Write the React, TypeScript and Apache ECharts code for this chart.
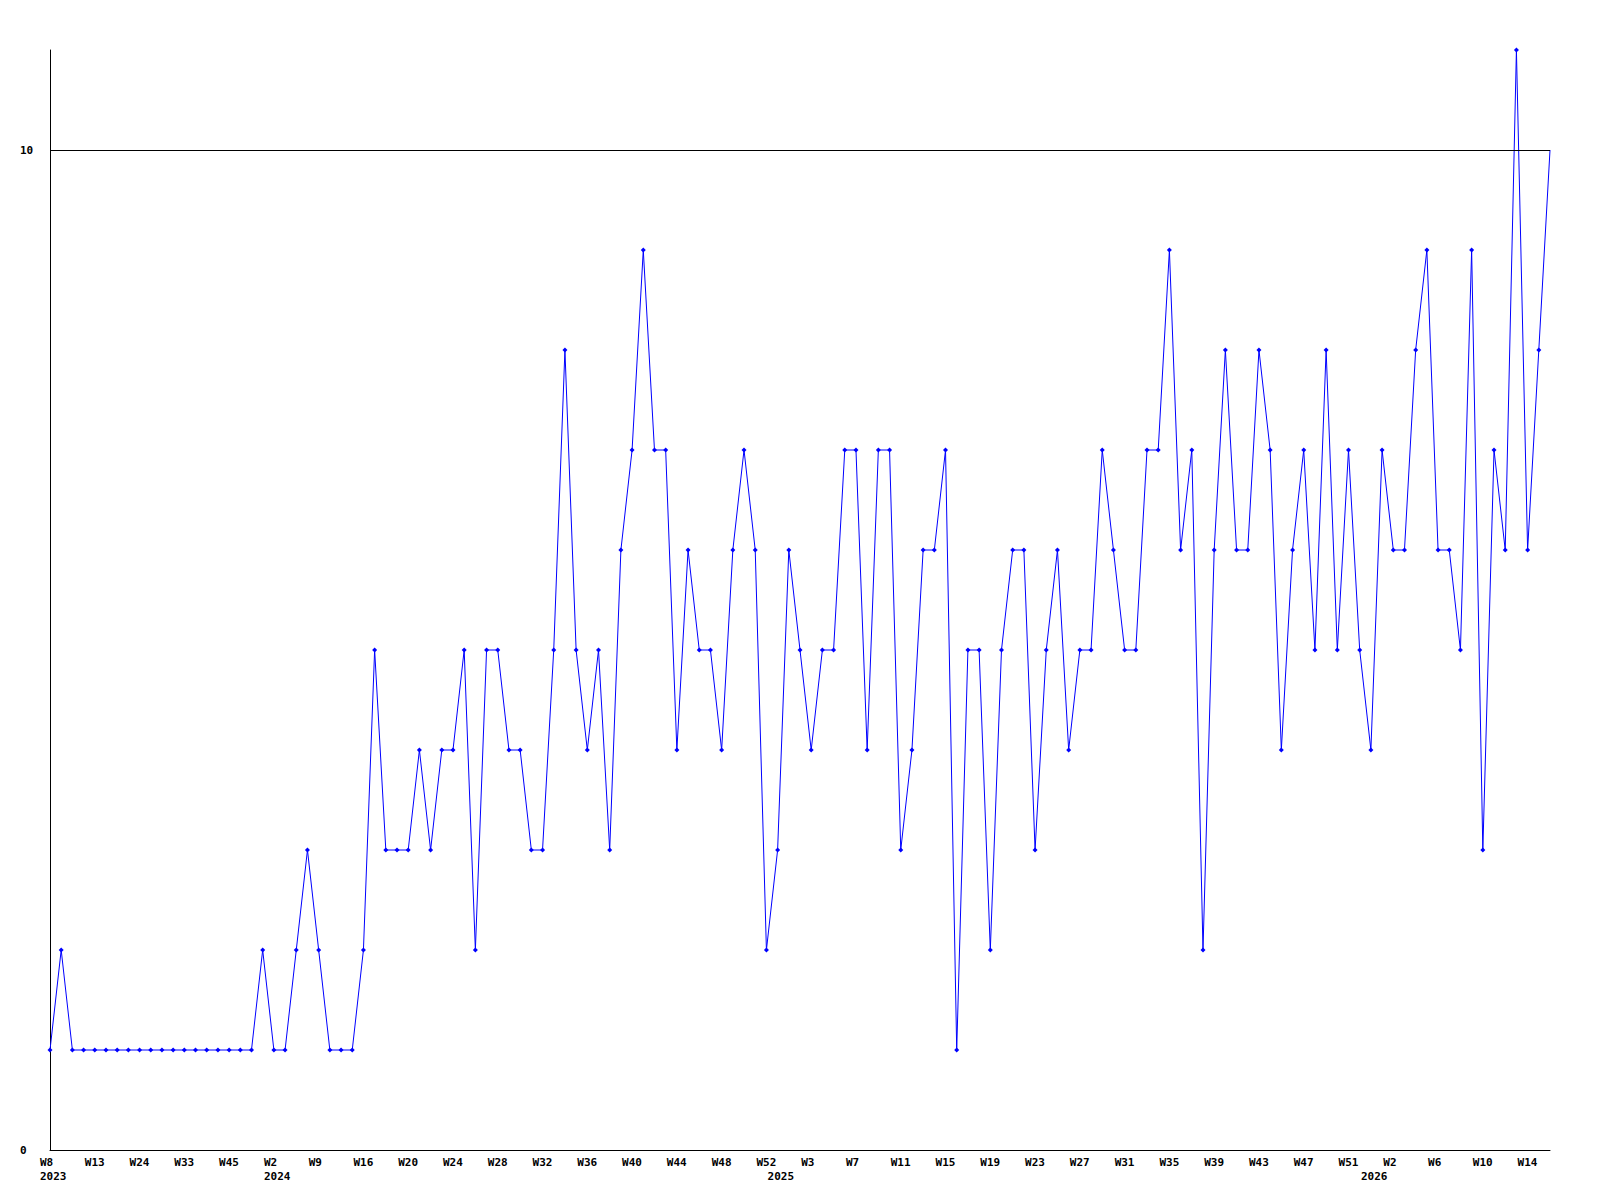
import React, { useEffect, useRef } from "react";
import * as echarts from "echarts";

// Week labels per year (as shown on the chart's category axis)
const weeks2023 = [8, 9, 10, 12, 13, 15, 18, 21, 24, 26, 28, 31, 33, 36, 39, 42, 45, 47, 49, 51];
const weeks2024 = [2, 3, 5, 7, 9, 11, 13, 14, 16, 17, 18, 19, 20, 21, 22, 23, 24, 25, 26, 27, 28, 29, 30, 31, 32, 33, 34, 35, 36, 37, 38, 39, 40, 41, 42, 43, 44, 45, 46, 47, 48, 49, 50, 51, 52];
const weeks2025 = [0, 1, 2, 3, 4, 5, 6, 7, 8, 9, 10, 11, 12, 13, 14, 15, 16, 17, 18, 19, 20, 21, 22, 23, 24, 25, 26, 27, 28, 29, 30, 31, 32, 33, 34, 35, 36, 37, 38, 39, 40, 41, 42, 43, 44, 45, 46, 47, 48, 49, 50, 51, 52];
const weeks2026 = [0, 1, 2, 3, 4, 5, 6, 7, 8, 9, 10, 11, 12, 13, 14, 15, 16];

const values = [
  1, 2, 1, 1, 1, 1, 1, 1, 1, 1, 1, 1, 1, 1, 1, 1, 1, 1, 1, 2,
  1, 1, 2, 3, 2, 1, 1, 1, 2, 5,
  3, 3, 3, 4, 3, 4, 4, 5, 2, 5,
  5, 4, 4, 3, 3, 5, 8, 5, 4, 5,
  3, 6, 7, 9, 7, 7, 4, 6, 5, 5,
  4, 6, 7, 6, 2, 3, 6, 5, 4, 5,
  5, 7, 7, 4, 7, 7, 3, 4, 6, 6,
  7, 1, 5, 5, 2, 5, 6, 6, 3, 5,
  6, 4, 5, 5, 7, 6, 5, 5, 7, 7,
  9, 6, 7, 2, 6, 8, 6, 6, 8, 7,
  4, 6, 7, 5, 8, 5, 7, 5, 4, 7,
  6, 6, 8, 9, 6, 6, 5, 9, 3, 7,
  6, 11, 6, 8, 10,
];

const yTickLabels = [0, 10];
const refLineValue = 10;

const categories: string[] = [];
const catYears: number[] = [];
const catWeeks: number[] = [];
([
  [2023, weeks2023],
  [2024, weeks2024],
  [2025, weeks2025],
  [2026, weeks2026],
] as [number, number[]][]).forEach(([y, ws]) => {
  ws.forEach((w) => {
    categories.push(`${y}-W${w}`);
    catYears.push(y);
    catWeeks.push(w);
  });
});

const isYearStart = (i: number) => i === 0 || catYears[i] !== catYears[i - 1];
const showLabel = (i: number) => i % 4 === 0 || isYearStart(i);

// the final (current, partial) point is drawn without a marker
const seriesData = values.map((v, i) =>
  i === values.length - 1 ? { value: v, symbol: "none" } : v
);

export default function App() {
  const ref = useRef<HTMLDivElement>(null);
  useEffect(() => {
    if (!ref.current) return;
    const chart = echarts.init(ref.current, undefined, { renderer: "svg" });
    const font = "'DejaVu Sans Mono', monospace";
    chart.setOption({
      animation: false,
      backgroundColor: "#ffffff",
      grid: { left: 50, right: 50, top: 50, bottom: 50, containLabel: false },
      xAxis: {
        type: "category",
        data: categories,
        boundaryGap: false,
        axisLine: { show: true, lineStyle: { color: "#000000", width: 1 } },
        axisTick: { show: false },
        splitLine: { show: false },
        axisLabel: {
          interval: (index: number) => showLabel(index),
          formatter: (_v: string, index: number) => {
            const top = index % 4 === 0 ? `W${catWeeks[index]}` : " ";
            return isYearStart(index) ? `${top}\n${catYears[index]}` : top;
          },
          color: "#000000",
          fontFamily: font,
          fontWeight: "bold",
          fontSize: 11,
          lineHeight: 14,
          align: "left",
          verticalAlign: "top",
          padding: [0, 0, 0, -10],
          margin: 5,
        },
      },
      yAxis: {
        type: "value",
        min: 0,
        max: 11,
        interval: 10,
        axisLine: { show: true, lineStyle: { color: "#000000", width: 1 } },
        axisTick: { show: false },
        splitLine: { show: false },
        axisLabel: {
          formatter: (v: number) => (yTickLabels.includes(v) ? String(v) : ""),
          showMaxLabel: false,
          color: "#000000",
          fontFamily: font,
          fontWeight: "bold",
          fontSize: 11,
          align: "left",
          margin: 30,
        },
      },
      series: [
        {
          type: "line",
          data: seriesData,
          symbol: "diamond",
          symbolSize: 5,
          showSymbol: true,
          itemStyle: { color: "#0000ff" },
          lineStyle: { color: "#0000ff", width: 1 },
          markLine: {
            silent: true,
            symbol: "none",
            label: { show: false },
            lineStyle: { color: "#000000", width: 1, type: "solid" },
            data: [{ yAxis: refLineValue }],
            z: 5,
          },
          z: 3,
        },
      ],
    });
    return () => chart.dispose();
  }, []);
  return (
    <div
      ref={ref}
      style={{ position: "fixed", left: 0, top: 0, width: 1600, height: 1200 }}
    />
  );
}
